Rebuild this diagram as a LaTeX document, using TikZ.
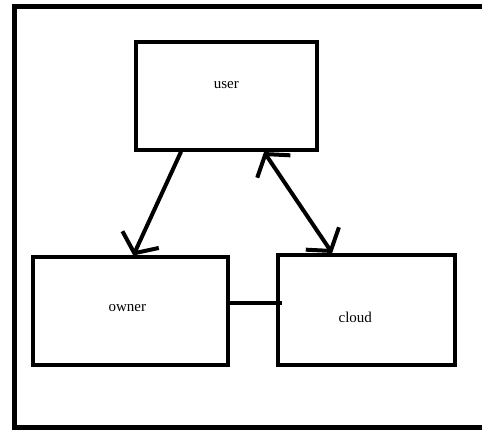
\documentclass[tikz,border=0pt]{standalone}
\usepackage{fontspec}
\setmainfont{Liberation Serif}
\usetikzlibrary{arrows.meta}

\begin{document}
\begin{tikzpicture}[x=1pt,y=-1pt,
    box/.style={rectangle,draw,line width=4pt,inner sep=0pt},
    boxtext/.style={font=\fontsize{15}{18}\selectfont},
    barb/.tip={Straight Barb[length=15pt,width=40pt]},
    link/.style={line width=4pt,line cap=round,-barb}]
        \useasboundingbox (0,0) rectangle (482,430);
        \draw[line width=5pt] (14.7,6.8) rectangle (500,427.5);

        \node[box,minimum width=181.5pt,minimum height=108pt,
              label={[boxtext,yshift=11pt]center:user}] (user) at (226.25,96) {};
        \node[box,minimum width=195.3pt,minimum height=107pt,
              label={[boxtext,xshift=-3pt,yshift=3pt]center:owner}] (owner) at (130.4,311) {};
        \node[box,minimum width=177.5pt,minimum height=109.5pt,
              label={[boxtext,xshift=-11pt,yshift=-8pt]center:cloud}] (cloud) at (366.25,309.75) {};

        \path
        (user.231) edge[link] (owner.87)
        (user.304) edge[link,barb-barb] (cloud.121)
        ([yshift=8pt]owner.east) edge[line width=4pt,shorten >=-6pt] ([yshift=8pt]owner.east -| cloud.west);
    \end{tikzpicture}
\end{document}
